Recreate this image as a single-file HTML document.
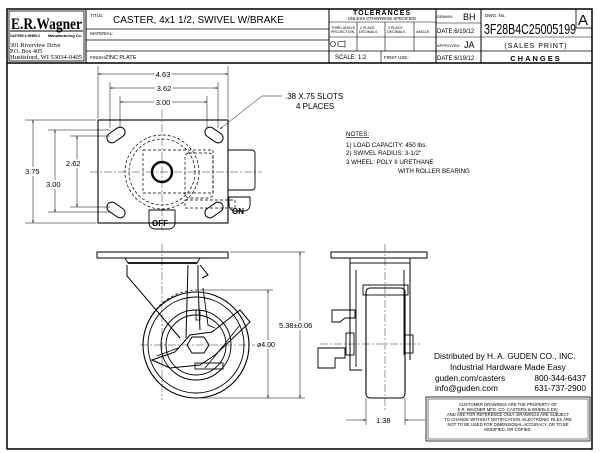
<!DOCTYPE html>
<html><head><meta charset="utf-8"><style>
html,body{margin:0;padding:0;background:#fff;}
svg{display:block;font-family:"Liberation Sans",sans-serif;}
</style></head><body>
<svg width="600" height="453" viewBox="0 0 600 453" xmlns="http://www.w3.org/2000/svg">
<defs>
<marker id="ar" viewBox="0 0 10 10" refX="10" refY="5" markerWidth="8" markerHeight="5" orient="auto-start-reverse"><path d="M0,2 L10,5 L0,8z" fill="#000"/></marker>
</defs>
<rect x="0" y="0" width="600" height="453" fill="#fff"/>
<rect x="7" y="9" width="585" height="440" fill="none" stroke="#000" stroke-width="1.5"/>
<line x1="7" y1="63" x2="592" y2="63" stroke="#000" stroke-width="1.5"/>
<line x1="86" y1="9" x2="86" y2="63" stroke="#000"/>
<rect x="9" y="11" width="75" height="50" fill="none" stroke="#000" stroke-width="0.8"/>
<text x="11" y="29" font-family="Liberation Serif,serif" font-size="16" font-weight="bold" textLength="71" lengthAdjust="spacingAndGlyphs">E.R.Wagner</text>
<line x1="10" y1="31" x2="83" y2="31" stroke="#000"/>
<text x="10" y="37" font-size="4" font-weight="bold" textLength="30" lengthAdjust="spacingAndGlyphs">CASTERS &amp; WHEELS</text>
<text x="48" y="37" font-size="4" font-weight="bold" textLength="34" lengthAdjust="spacingAndGlyphs">Manufacturing Co.</text>
<text x="10" y="47" font-family="Liberation Serif,serif" font-size="6">301 Riverview Drive</text>
<text x="10" y="53" font-family="Liberation Serif,serif" font-size="6">P.O. Box 405</text>
<text x="10" y="59" font-family="Liberation Serif,serif" font-size="6" textLength="72" lengthAdjust="spacingAndGlyphs">Hustisford, WI 53034-0405</text>
<line x1="86" y1="29" x2="329" y2="29" stroke="#000" stroke-width="0.8"/>
<line x1="86" y1="40" x2="329" y2="40" stroke="#000" stroke-width="0.8"/>
<line x1="86" y1="51" x2="592" y2="51" stroke="#000" stroke-width="0.8"/>
<text x="90" y="17" font-size="4.5">TITLE:</text>
<text x="113" y="23" font-size="10">CASTER, 4x1 1/2, SWIVEL W/BRAKE</text>
<text x="90" y="35" font-size="4.5">MATERIAL:</text>
<text x="90" y="59" font-size="4.5">FINISH:</text><text x="105" y="59" font-size="5.5">ZINC PLATE</text>
<line x1="329" y1="9" x2="329" y2="63" stroke="#000"/>
<line x1="436" y1="9" x2="436" y2="63" stroke="#000"/>
<line x1="481" y1="9" x2="481" y2="63" stroke="#000"/>
<text x="382" y="15" font-size="7" font-weight="bold" text-anchor="middle" letter-spacing="1">TOLERANCES</text>
<text x="382" y="20" font-size="4.3" text-anchor="middle">UNLESS OTHERWISE SPECIFIED</text>
<line x1="329" y1="22" x2="436" y2="22" stroke="#000" stroke-width="0.6"/>
<line x1="329" y1="37" x2="436" y2="37" stroke="#000" stroke-width="0.6"/>
<line x1="357" y1="22" x2="357" y2="51" stroke="#000" stroke-width="0.6"/>
<line x1="385" y1="22" x2="385" y2="51" stroke="#000" stroke-width="0.6"/>
<line x1="414" y1="22" x2="414" y2="51" stroke="#000" stroke-width="0.6"/>
<line x1="381" y1="51" x2="381" y2="63" stroke="#000" stroke-width="0.6"/>
<text x="331" y="29" font-size="3.6">THIRD ANGLE</text><text x="331" y="33" font-size="3.6">PROJECTION</text>
<text x="360" y="29" font-size="3.6">2 PLACE</text><text x="359" y="33" font-size="3.6">DECIMALS</text>
<text x="388" y="29" font-size="3.6">3 PLACE</text><text x="387" y="33" font-size="3.6">DECIMALS</text>
<text x="416" y="33" font-size="4">ANGLE</text>
<circle cx="333" cy="44" r="2.5" fill="none" stroke="#000" stroke-width="0.6"/>
<path d="M338,42 L345,41 L345,47 L338,46z" fill="none" stroke="#000" stroke-width="0.6"/>
<text x="335" y="59" font-size="6">SCALE: 1:2</text>
<text x="384" y="59" font-size="4.5">FIRST USE:</text>
<line x1="436" y1="23" x2="481" y2="23" stroke="#000" stroke-width="0.6"/>
<line x1="436" y1="37" x2="592" y2="37" stroke="#000" stroke-width="0.6"/>
<text x="437" y="18" font-size="4">DRAWN:</text><text x="463" y="20" font-size="9">BH</text>
<text x="437" y="33" font-size="6">DATE:6/19/12</text>
<text x="437" y="47" font-size="4">APPROVED:</text><text x="464" y="48" font-size="9">JA</text>
<text x="437" y="60" font-size="6">DATE:6/19/12</text>
<rect x="576" y="9" width="16" height="19" fill="none" stroke="#000" stroke-width="0.8"/>
<text x="578" y="25" font-size="15">A</text>
<text x="485" y="17" font-size="4.5">DWG. No.</text>
<text x="484" y="34" font-size="15" textLength="92" lengthAdjust="spacingAndGlyphs">3F28B4C25005199</text>
<text x="536" y="48" font-size="7" text-anchor="middle" letter-spacing="1">(SALES PRINT)</text>
<text x="536" y="61" font-size="7.5" font-weight="bold" text-anchor="middle" letter-spacing="2">CHANGES</text>

<g stroke="#000" fill="none" stroke-width="0.7">
<rect x="98" y="120" width="130" height="103" stroke-width="1.1"/>
<path d="M228,150 H252 a3,3 0 0 1 3,3 V187 a3,3 0 0 1 -3,3 H228" stroke-width="0.9"/>
<path d="M229,197 H250 V205 a6,6 0 0 1 -6,6 H235 a6,6 0 0 1 -6,-6z" stroke-width="0.9"/>
<path d="M149,210 H175 V223 a6,6 0 0 1 -6,6 H155 a6,6 0 0 1 -6,-6z" stroke-width="0.9"/>
<circle cx="162" cy="172" r="10" stroke-width="2.4"/>
<circle cx="162" cy="172" r="33" stroke-dasharray="3,2"/>
<circle cx="162" cy="172" r="37" stroke-dasharray="3,2"/>
<rect x="143" y="150" width="70" height="43" stroke-dasharray="3,2"/>
<rect x="185" y="153" width="28" height="45" rx="4" stroke-dasharray="3,2"/>
<rect x="185" y="200" width="50" height="8" stroke-dasharray="3,2"/>
<g stroke-width="1">
<rect x="106" y="130" width="20" height="10" rx="5" transform="rotate(-35 116 135)"/>
<rect x="204" y="130" width="20" height="10" rx="5" transform="rotate(35 214 135)"/>
<rect x="106" y="205" width="20" height="10" rx="5" transform="rotate(35 116 210)"/>
<rect x="204" y="205" width="20" height="10" rx="5" transform="rotate(-35 214 210)"/>
</g>
<g stroke-dasharray="8,2,2,2" stroke-width="0.4">
<line x1="162" y1="110" x2="162" y2="232"/><line x1="90" y1="172" x2="262" y2="172"/>
</g>
<g stroke-width="0.5">
<line x1="98" y1="66" x2="98" y2="118"/><line x1="228" y1="66" x2="228" y2="118"/>
<line x1="110" y1="82" x2="110" y2="128"/><line x1="218" y1="82" x2="218" y2="128"/>
<line x1="120" y1="96" x2="120" y2="128"/><line x1="207" y1="96" x2="207" y2="128"/>
<line x1="98" y1="74" x2="228" y2="74" marker-start="url(#ar)" marker-end="url(#ar)"/>
<line x1="110" y1="88" x2="218" y2="88" marker-start="url(#ar)" marker-end="url(#ar)"/>
<line x1="120" y1="102" x2="207" y2="102" marker-start="url(#ar)" marker-end="url(#ar)"/>
<line x1="25" y1="120" x2="96" y2="120"/><line x1="25" y1="223" x2="96" y2="223"/>
<line x1="48" y1="130" x2="110" y2="130"/><line x1="48" y1="212" x2="110" y2="212"/>
<line x1="70" y1="136" x2="110" y2="136"/><line x1="70" y1="207" x2="110" y2="207"/>
<line x1="33" y1="120" x2="33" y2="223" marker-start="url(#ar)" marker-end="url(#ar)"/>
<line x1="55" y1="130" x2="55" y2="212" marker-start="url(#ar)" marker-end="url(#ar)"/>
<line x1="77" y1="136" x2="77" y2="207" marker-start="url(#ar)" marker-end="url(#ar)"/>
<polyline points="282,96 262,96 220,129" marker-end="url(#ar)"/>
</g>
<!-- SIDE VIEW -->
<rect x="97" y="252" width="131" height="6" stroke-width="1"/>
<path d="M125,258 H200 L197,263 H128z" stroke-width="0.9"/>
<line x1="128" y1="263" x2="197" y2="263" stroke-width="1.8"/>
<circle cx="196" cy="345" r="53" stroke-width="1.1"/>
<circle cx="196" cy="345" r="48" stroke-width="0.9"/>
<circle cx="196" cy="345" r="35" stroke-width="0.9"/>
<circle cx="196" cy="345" r="30" stroke-width="0.9"/>
<path d="M150,318 A55,55 0 0 1 200,290" stroke-dasharray="3,2"/>
<path d="M127,265 L127,276 L180,338" stroke-width="1"/>
<path d="M188,265 L186,338 M198,265 L198,285 L200,330 M200,265 L208,275 L202,278" stroke-width="1"/>
<path d="M203,288 L208,325 L215,328" stroke-width="0.9"/>
<path d="M152,360 L175,352 L190,335 L212,332 L240,310 L250,322 L215,355 L200,365 L170,368z" stroke-width="1"/>
<path d="M157,356 L178,348 M205,368 L215,356 L240,325" stroke-width="0.8"/>
<rect x="195" y="363" width="28" height="6" stroke-width="0.9"/>
<polygon points="192,337 204,337 209,345 204,353 192,353 187,345" stroke-width="1"/>
<rect x="196" y="310" width="4" height="10" stroke-width="0.8"/>
<g stroke-dasharray="8,2,2,2" stroke-width="0.4">
<line x1="162" y1="244" x2="162" y2="400"/><line x1="140" y1="345" x2="255" y2="345"/>
</g>
<g stroke-width="0.5">
<line x1="230" y1="252" x2="305" y2="252"/><line x1="200" y1="290" x2="273" y2="290"/><line x1="200" y1="398" x2="305" y2="398"/>
<line x1="300" y1="252" x2="300" y2="398" marker-start="url(#ar)" marker-end="url(#ar)"/>
<line x1="268" y1="290" x2="268" y2="398" marker-start="url(#ar)" marker-end="url(#ar)"/>
</g>
<!-- FRONT VIEW -->
<rect x="331" y="252" width="96" height="6" stroke-width="1"/>
<rect x="350" y="258" width="60" height="5" stroke-width="0.9"/>
<path d="M350,263 V370 H362 M410,263 V360" stroke-width="1"/>
<path d="M356,270 V367 M404,270 V355" stroke-width="0.9"/>
<rect x="366" y="288" width="39" height="110" rx="4" stroke-width="1.1"/>
<rect x="363" y="285" width="45" height="10" stroke-width="0.9"/>
<path d="M332,310 H355 V318 H345 L340,322 H332z M318,348 H345 V358 H335 V368 H318z" stroke-width="0.9"/>
<rect x="346" y="333" width="8" height="22" stroke-width="0.9"/>
<rect x="405" y="335" width="8" height="18" stroke-width="0.9"/>
<g stroke-dasharray="8,2,2,2" stroke-width="0.4">
<line x1="385" y1="244" x2="385" y2="410"/><line x1="320" y1="344" x2="420" y2="344"/>
</g>
<g stroke-width="0.5">
<line x1="366" y1="398" x2="366" y2="425"/><line x1="405" y1="398" x2="405" y2="425"/>
<line x1="346" y1="420" x2="366" y2="420" marker-end="url(#ar)"/>
<line x1="425" y1="420" x2="405" y2="420" marker-end="url(#ar)"/>
</g>
<rect x="426" y="397" width="164" height="44" stroke-width="0.8"/>
<rect x="428" y="399" width="160" height="40" stroke-width="0.5"/>
</g>
<g font-size="7.5" fill="#000">
<text x="163" y="77" text-anchor="middle" stroke="#fff" stroke-width="4" style="paint-order:stroke">4.63</text>
<text x="164" y="91" text-anchor="middle" stroke="#fff" stroke-width="4" style="paint-order:stroke">3.62</text>
<text x="163" y="105" text-anchor="middle" stroke="#fff" stroke-width="4" style="paint-order:stroke">3.00</text>
<text x="25" y="174" stroke="#fff" stroke-width="4" style="paint-order:stroke">3.75</text>
<text x="46" y="187" stroke="#fff" stroke-width="4" style="paint-order:stroke">3.00</text>
<text x="66" y="166" stroke="#fff" stroke-width="4" style="paint-order:stroke">2.62</text>
<text x="285" y="99" font-size="8">.38 X.75 SLOTS</text>
<text x="296" y="109" font-size="8">4 PLACES</text>
<text x="232" y="214" font-size="8" font-weight="bold">ON</text>
<text x="152" y="226" font-size="8" font-weight="bold">OFF</text>
<text x="279" y="328" stroke="#fff" stroke-width="4" style="paint-order:stroke">5.38±0.06</text>
<text x="257" y="347" font-size="7" stroke="#fff" stroke-width="4" style="paint-order:stroke">ø4.00</text>
<text x="376" y="423">1.38</text>
</g>
<g font-size="6.2" fill="#000">
<text x="346" y="136" text-decoration="underline">NOTES:</text>
<text x="346" y="147">1) LOAD CAPACITY: 450 lbs.</text>
<text x="346" y="155">2) SWIVEL RADIUS: 3-1/2"</text>
<text x="346" y="164">3 WHEEL: POLY II URETHANE</text>
<text x="398" y="173">WITH ROLLER BEARING</text>
</g>
<g font-size="8.3" fill="#000">
<text x="434" y="359">Distributed by   H. A. GUDEN CO., INC.</text>
<text x="450" y="370">Industrial Hardware Made Easy</text>
<text x="435" y="381">guden.com/casters</text><text x="586" y="381" text-anchor="end">800-344-6437</text>
<text x="435" y="391">info@guden.com</text><text x="586" y="391" text-anchor="end">631-737-2900</text>
</g>
<g font-size="4.2" fill="#000" text-anchor="middle">
<text x="508" y="406">CUSTOMER DRAWINGS ARE THE PROPERTY OF</text>
<text x="508" y="411" text-decoration="underline">E.R. WAGNER MFG. CO. CASTERS &amp; WHEELS DIV.</text>
<text x="508" y="416">AND ARE FOR REFERENCE ONLY. DRAWINGS ARE SUBJECT</text>
<text x="508" y="421">TO CHANGE WITHOUT NOTIFICATION. ELECTRONIC FILES ARE</text>
<text x="508" y="426">NOT TO BE USED FOR DIMENSIONAL ACCURACY, OR TO BE</text>
<text x="508" y="431">MODIFIED, OR COPIED.</text>
</g>
</svg>
</body></html>
